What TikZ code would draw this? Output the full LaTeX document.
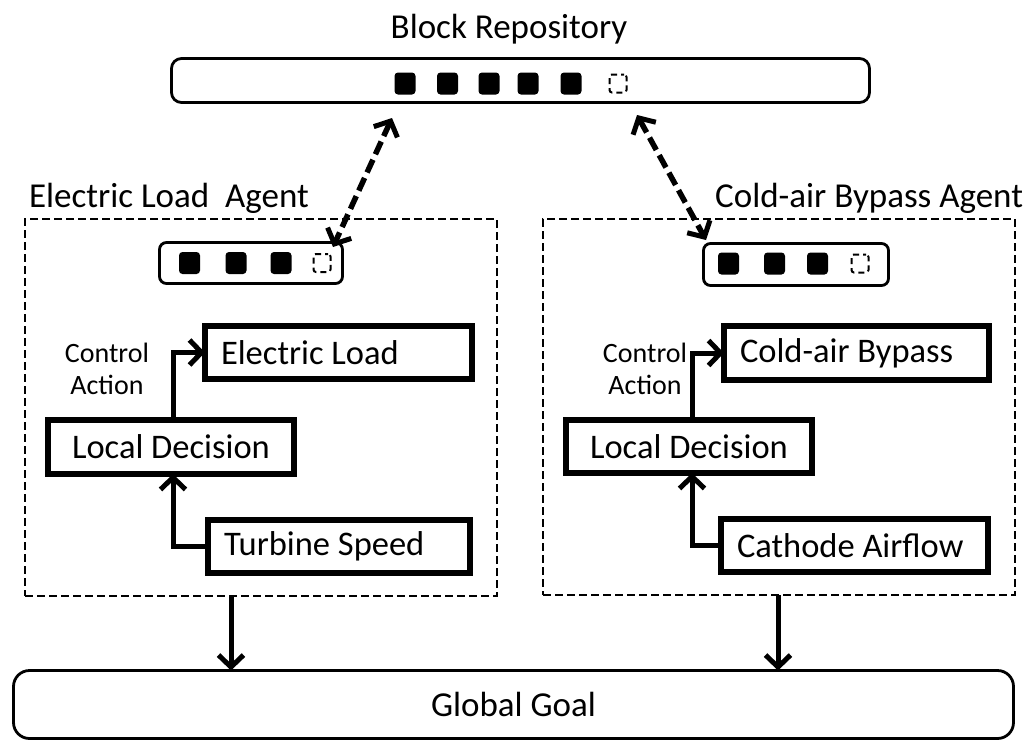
\documentclass[tikz,border=0pt]{standalone}
\usepackage{fontspec}
\setmainfont{Carlito}
\usetikzlibrary{arrows.meta,calc}

\tikzset{
  every node/.style={inner sep=0pt, outer sep=0pt},
  repobox/.style={draw, line width=2.8pt, rounded corners=10pt},
  minirepo/.style={draw, line width=2.8pt, rounded corners=7pt},
  block/.style={fill=black, rounded corners=3.5pt, minimum width=21pt, minimum height=22pt},
  slot/.style={draw, line width=2pt, rounded corners=2.5pt, dash pattern=on 6pt off 4pt,
               dash phase=3pt, minimum width=17pt, minimum height=18pt},
  agentbox/.style={draw, line width=2.4pt, dash pattern=on 8pt off 4pt},
  unit/.style={draw, line width=6pt, font=\fontsize{34.5}{40}\selectfont},
  unitl/.style={unit, align=flush left, inner xsep=16pt, inner ysep=0pt},
  title/.style={font=\fontsize{35}{40}\selectfont},
  small/.style={font=\fontsize{28}{32}\selectfont, align=center},
  goalbox/.style={draw, line width=2.8pt, rounded corners=16pt, font=\fontsize{35}{40}\selectfont},
  flow/.style={line width=5pt, -{Straight Barb[length=12pt,width=25pt,line width=5pt]}},
  sync/.style={line width=5.5pt, dash pattern=on 14pt off 6pt,
               {Straight Barb[length=12pt,width=26pt,line width=5pt]}-{Straight Barb[length=12pt,width=26pt,line width=5pt]}}
}

\begin{document}
\begin{tikzpicture}[x=1pt,y=-1pt]
\useasboundingbox (0,0) rectangle (1027,753);

% shared block repository
\node[title, anchor=base] (reptitle) at (509,38) {Block Repository};
\node[repobox, minimum width=698pt, minimum height=44pt] (repo) at (520.5,80.5) {};
\foreach \n/\x in {1/405,2/447.5,3/489,4/528,5/571}
  \node[block] (rb\n) at (\x,83.5) {};
\node[slot] (rslot) at (618,83.5) {};

% agent frames and their labels
\node[agentbox, minimum width=472pt, minimum height=377pt] (agL) at (261,407.5) {};
\node[agentbox, minimum width=472pt, minimum height=376pt] (agR) at (779,407) {};
\node[title, anchor=base west] (agLtitle) at (29,207) {Electric Load\ \ Agent};
\node[title, anchor=base east] (agRtitle) at (1023,207) {Cold-air Bypass Agent};

% local block copies
\node[minirepo, minimum width=183pt, minimum height=41pt] (mrL) at (251,263) {};
\foreach \n/\x in {1/189.5,2/236,3/281}
  \node[block] (lb\n) at (\x,263) {};
\node[slot] (lslot) at (322,263) {};

\node[minirepo, minimum width=185pt, minimum height=42pt] (mrR) at (796,264.5) {};
\foreach \n/\x in {1/728.5,2/774.5,3/817.5}
  \node[block] (qb\n) at (\x,263.5) {};
\node[slot] (qslot) at (860,263.5) {};

% electric load agent
\node[unitl, text width=235pt, minimum height=53pt] (elL) at (338.5,352.5) {Electric Load};
\node[unit, minimum width=246pt, minimum height=54pt] (ldL) at (171,447) {Local Decision};
\node[unitl, text width=230pt, minimum height=53pt] (tsL) at (339,546.5) {Turbine Speed};
\node[small] (caL) at (107,369) {Control\\Action};

% cold-air bypass agent
\node[unitl, text width=233pt, minimum height=54pt] (cbR) at (856.5,353) {Cold-air Bypass};
\node[unit, minimum width=246pt, minimum height=53pt] (ldR) at (689,446.5) {Local Decision};
\node[unitl, text width=235pt, minimum height=53pt] (caR) at (854.5,545.5) {Cathode Airflow};
\node[small] (caRl) at (645,369) {Control\\Action};

% global goal
\node[goalbox, minimum width=1000pt, minimum height=68pt] (goal) at (513.5,704.5) {Global Goal};

% control flow inside the agents
\draw[flow] ($(ldL.north)+(2,0)$) |- (elL.west);
\draw[flow] (tsL.west) -| ($(ldL.south)+(2,0)$);
\draw[flow] ($(ldR.north)+(3,0)$) |- (cbR.west);
\draw[flow] (caR.west) -| ($(ldR.south)+(3,0)$);

% agents feed the global goal
\coordinate (dL) at (231,0);
\coordinate (dR) at (778,0);
\draw[flow] (agL.south -| dL) -- (goal.north -| dL);
\draw[flow] (agR.south -| dR) -- (goal.north -| dR);

% synchronisation with the repository
\coordinate (sLtop) at (392,118);
\coordinate (sLbot) at (333,247);
\coordinate (sRtop) at (637,115);
\coordinate (sRbot) at (706,240);
\draw[sync] (sLtop) -- (sLbot);
\draw[sync] (sRtop) -- (sRbot);
\end{tikzpicture}
\end{document}
